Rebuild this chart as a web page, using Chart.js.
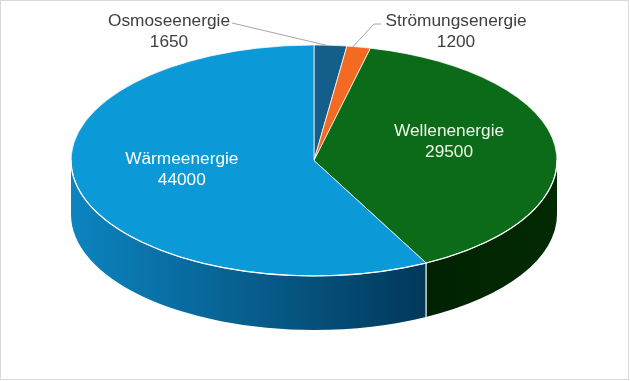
<!DOCTYPE html>
<html><head><meta charset="utf-8">
<script src="https://cdn.jsdelivr.net/npm/chart.js@4/dist/chart.umd.min.js"></script>
<style>html,body{margin:0;padding:0;background:#fff;}canvas{display:block;}</style>
</head><body>
<canvas id="c" width="630" height="381"></canvas>
<script>
const categories = ['Osmoseenergie', 'Strömungsenergie', 'Wellenenergie', 'Wärmeenergie'];
const values = [1650, 1200, 29500, 44000];
const topColors = ['#135e8b', '#f36b22', '#0c6b18', '#0b99d7'];
const sideColors = [['#0b3f5e', '#062b40'], ['#b34a12', '#8a370c'], ['#012201', '#022a02'], ['#0c84c0', '#02385a']];
const labelColors = ['#404040', '#404040', '#eef7ea', '#ffffff'];

const CX = 314, CY = 160.5, RX = 243, RY = 115.5, DEPTH = 54;
const FONT = '17.3px "Liberation Sans", Arial, sans-serif';

const pie3d = {
  id: 'pie3d',
  beforeDatasetsDraw(chart) {
    const ctx = chart.ctx;
    const arcs = chart.getDatasetMeta(0).data;
    // side walls (front half only)
    arcs.forEach((arc, i) => {
      const a1 = Math.max(arc.startAngle, 0), a2 = Math.min(arc.endAngle, Math.PI);
      if (a2 <= a1) return;
      ctx.save();
      ctx.beginPath();
      ctx.ellipse(CX, CY, RX, RY, 0, a1, a2, false);
      ctx.ellipse(CX, CY + DEPTH, RX, RY, 0, a2, a1, true);
      ctx.closePath();
      const xl = CX + RX * Math.cos(a2), xr = CX + RX * Math.cos(a1);
      const g = ctx.createLinearGradient(Math.min(xl, xr), 0, Math.max(xl, xr), 0);
      g.addColorStop(0, sideColors[i][0]);
      g.addColorStop(1, sideColors[i][1]);
      ctx.fillStyle = g;
      ctx.fill();
      ctx.restore();
    });
    // white edges between side segments
    arcs.forEach((arc) => {
      const s = arc.startAngle;
      if (s > 0 && s < Math.PI) {
        const x = CX + RX * Math.cos(s), y = CY + RY * Math.sin(s);
        ctx.save();
        ctx.strokeStyle = '#ffffff';
        ctx.lineWidth = 1.2;
        ctx.beginPath();
        ctx.moveTo(x, y);
        ctx.lineTo(x, y + DEPTH);
        ctx.stroke();
        ctx.restore();
      }
    });
    // squash the top face into an ellipse
    const a0 = arcs[0];
    ctx.save();
    ctx.translate(CX, CY);
    ctx.scale(1, RY / RX);
    ctx.translate(-a0.x, -a0.y);
  },
  afterDatasetsDraw(chart) {
    const ctx = chart.ctx;
    ctx.restore();
    const arcs = chart.getDatasetMeta(0).data;
    // rim highlight
    ctx.save();
    ctx.strokeStyle = '#ffffff';
    ctx.lineWidth = 1.2;
    ctx.beginPath();
    ctx.ellipse(CX, CY, RX, RY, 0, 0, Math.PI, false);
    ctx.stroke();
    ctx.restore();

    ctx.save();
    ctx.font = FONT;
    ctx.textAlign = 'center';
    ctx.textBaseline = 'middle';
    arcs.forEach((arc, i) => {
      const mid = (arc.startAngle + arc.endAngle) / 2;
      const txt1 = categories[i], txt2 = String(values[i]);
      if (i >= 2) {
        const x = CX + RX * 0.56 * Math.cos(mid);
        const y = CY + RY * 0.69 * Math.sin(mid) - 10;
        ctx.fillStyle = labelColors[i];
        ctx.fillText(txt1, x, y - 10);
        ctx.fillText(txt2, x, y + 11);
      } else {
        const ex = CX + RX * Math.cos(mid), ey = CY + RY * Math.sin(mid);
        ctx.strokeStyle = '#a6a6a6';
        ctx.lineWidth = 1;
        ctx.beginPath();
        let lx, ly;
        if (i === 0) {
          lx = 169; ly = 21;
          ctx.moveTo(232, 23);
          ctx.lineTo(ex - 4, ey);
        } else {
          lx = 456; ly = 21;
          ctx.moveTo(381, 24);
          ctx.lineTo(374, 24);
          ctx.lineTo(ex - 6, ey);
        }
        ctx.stroke();
        ctx.fillStyle = labelColors[i];
        ctx.fillText(txt1, lx, ly);
        ctx.fillText(txt2, lx, ly + 21);
      }
    });
    ctx.restore();
  },
  afterDraw(chart) {
    const ctx = chart.ctx;
    ctx.save();
    ctx.strokeStyle = '#d9d9d9';
    ctx.lineWidth = 1;
    ctx.strokeRect(0.5, 0.5, 628, 379);
    ctx.restore();
  }
};

new Chart(document.getElementById('c'), {
  type: 'pie',
  data: {
    labels: categories,
    datasets: [{
      data: values,
      backgroundColor: topColors,
      borderColor: '#ffffff',
      borderWidth: 1,
      radius: RX,
      clip: false
    }]
  },
  options: {
    responsive: false,
    animation: false,
    events: [],
    plugins: { legend: { display: false }, tooltip: { enabled: false } }
  },
  plugins: [pie3d]
});
</script>
</body></html>
